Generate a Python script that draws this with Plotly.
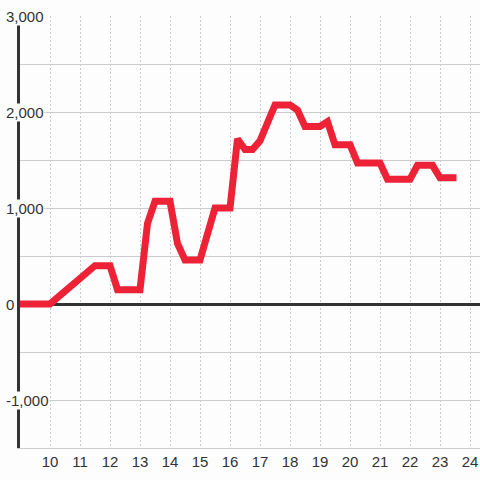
import plotly.graph_objects as go

# data (hour of day, value)
hours = [9, 10, 11.5, 12, 12.25, 13, 13.25, 13.5, 14, 14.25, 14.5, 15, 15.5, 16,
         16.25, 16.5, 16.75, 17, 17.5, 18, 18.25, 18.5, 19, 19.25, 19.5, 20,
         20.25, 21, 21.25, 22, 22.25, 22.75, 23, 23.55]
values = [0, 0, 400, 400, 150, 150, 840, 1070, 1070, 630, 460, 460, 1000, 1000,
          1720, 1610, 1610, 1700, 2075, 2075, 2020, 1850, 1850, 1900, 1660, 1660,
          1470, 1470, 1300, 1300, 1445, 1445, 1315, 1315]

x_ticks = list(range(10, 25))
y_label_vals = [3000, 2000, 1000, 0, -1000]
y_label_text = ["3,000", "2,000", "1,000", "0", "-1,000"]

FONT = "Liberation Sans, Arial, sans-serif"
BG = "#fcfdfc"

fig = go.Figure()
fig.add_trace(go.Scatter(x=hours, y=values, mode="lines",
                         line=dict(color="#ee2236", width=7),
                         hoverinfo="skip", showlegend=False))

fig.update_layout(
    width=480, height=480,
    margin=dict(l=20, r=0, t=16, b=32),
    paper_bgcolor=BG, plot_bgcolor=BG,
    font=dict(family=FONT, size=15, color="#333333"),
    xaxis=dict(range=[9, 24.3333], tickvals=x_ticks, ticktext=[str(v) for v in x_ticks],
               showgrid=True, gridcolor="#cccccc", gridwidth=1, griddash="2px,2px",
               showline=True, linecolor="#cccccc", linewidth=1,
               zeroline=False, ticks="", tickfont=dict(size=15, color="#333333")),
    yaxis=dict(range=[-1500, 3001], dtick=500, tick0=0,
               showgrid=True, gridcolor="#cccccc", gridwidth=1,
               showline=True, linecolor="#333333", linewidth=3,
               zeroline=True, zerolinecolor="#333333", zerolinewidth=3,
               showticklabels=False, ticks=""),
)

for v, t in zip(y_label_vals, y_label_text):
    fig.add_annotation(x=0, xref="paper", y=v, yref="y", text=t, showarrow=False,
                       xanchor="left", yanchor="middle", xshift=-15,
                       bgcolor=BG, borderpad=0,
                       font=dict(family=FONT, size=15, color="#333333"))

fig.write_html("out.html", config={"displayModeBar": False},
               post_script="document.body.style.margin='0';document.body.style.background='%s';" % BG)
